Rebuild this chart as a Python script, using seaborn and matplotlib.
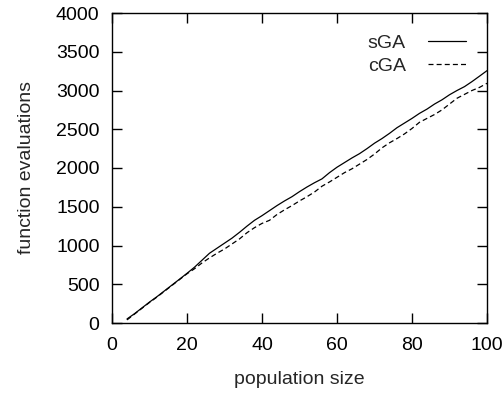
import numpy as np
import pandas as pd
import seaborn as sns
import matplotlib
matplotlib.use("Agg")
import matplotlib.pyplot as plt

pop_size = list(range(4, 101, 2))
sga = [52, 120, 195, 270, 340, 415, 490, 565, 641, 720,
       810, 900, 965, 1030, 1095, 1170, 1250, 1325, 1385, 1450,
       1515, 1575, 1630, 1695, 1755, 1810, 1860, 1940, 2010, 2070,
       2130, 2185, 2250, 2320, 2380, 2447, 2520, 2580, 2640, 2705,
       2760, 2825, 2880, 2945, 3000, 3050, 3115, 3185, 3256]
cga = [40, 115, 190, 265, 335, 410, 485, 560, 635, 700,
       775, 840, 900, 955, 1020, 1085, 1165, 1230, 1285, 1325,
       1400, 1460, 1515, 1575, 1630, 1690, 1765, 1820, 1880, 1940,
       1990, 2050, 2110, 2180, 2260, 2325, 2380, 2440, 2510, 2590,
       2640, 2690, 2750, 2825, 2900, 2950, 3000, 3040, 3093]
x_ticks = [0, 20, 40, 60, 80, 100]
y_ticks = [0, 500, 1000, 1500, 2000, 2500, 3000, 3500, 4000]

sns.set_style("ticks")
plt.rcParams['font.family'] = ['Liberation Sans', 'DejaVu Sans']

fig = plt.figure(figsize=(5.04, 4.01), dpi=100)
ax = fig.add_axes([112/504, 1-323/401, (487-112)/504, (323-13)/401])

df_s = pd.DataFrame({"x": pop_size, "y": sga})
df_c = pd.DataFrame({"x": pop_size, "y": cga})
sns.lineplot(data=df_s, x="x", y="y", ax=ax, color="black", linewidth=0.9,
             label="sGA")
sns.lineplot(data=df_c, x="x", y="y", ax=ax, color="black", linewidth=0.9,
             label="cGA", dashes=False)
ax.lines[1].set_dashes([4, 2.5])

ax.set_xlim(0, 100)
ax.set_ylim(0, 4000)
ax.set_xticks(x_ticks)
ax.set_yticks(y_ticks)
fs = 14
ax.tick_params(direction="in", length=7, width=1.0, top=True, right=True,
               labelsize=fs, colors="black")
ax.tick_params(axis="y", pad=9)
ax.tick_params(axis="x", pad=10)
for s in ax.spines.values():
    s.set_visible(True)
    s.set_linewidth(1.0)
    s.set_color("black")

ax.set_xlabel("population size", fontsize=fs, labelpad=12)
ax.set_ylabel("function evaluations", fontsize=fs, labelpad=15)

ax.legend(loc="upper right", frameon=False, markerfirst=False, fontsize=fs,
          handlelength=1.95, handletextpad=1.15, labelspacing=0.25,
          bbox_to_anchor=(0.975, 0.968), borderaxespad=0.2)

fig.savefig("out.png", dpi=100)
